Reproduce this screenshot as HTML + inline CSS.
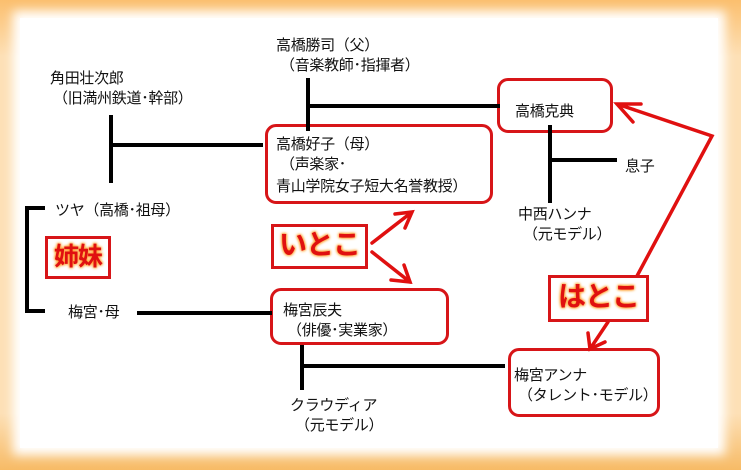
<!DOCTYPE html>
<html><head><meta charset="utf-8"><style>
body{margin:0;width:741px;height:470px;overflow:hidden;background:#f9c57c;font-family:"Liberation Sans","Noto Sans CJK JP",sans-serif;}
#frame{position:absolute;left:0;top:0;width:741px;height:470px;background:linear-gradient(#fbbf6e,#fde0b6 12%,#fde0b6 88%,#f7bb66);}
#inner{position:absolute;left:20px;top:18px;width:698px;height:430px;background:#fff;box-shadow:0 0 10px 7px #fff;}
.t{position:absolute;font-size:15px;color:#111;white-space:nowrap;line-height:20px;letter-spacing:-0.3px;}
.b{position:absolute;border:3px solid #d71518;border-radius:11px;box-sizing:border-box;background:#fff;}
.lab{position:absolute;border:3px solid #d71518;box-sizing:border-box;background:#fff;color:#e01010;font-weight:bold;font-size:28px;line-height:36px;text-align:center;letter-spacing:-1px;text-shadow:0 0 3px #ffa030,0 0 3px #ffa030,0 0 2px #ffc060;}
svg{position:absolute;left:0;top:0;}
</style></head><body>
<div id="frame"></div><div id="inner"></div>
<div class="b" style="left:497px;top:78px;width:116px;height:55px"></div>
<div class="b" style="left:265px;top:124px;width:228px;height:80px"></div>
<div class="b" style="left:270px;top:288px;width:179px;height:57px"></div>
<div class="b" style="left:508px;top:348px;width:152px;height:69px"></div>
<svg width="741" height="470">
<g stroke="#000" stroke-width="4" fill="none">
<path d="M308 78V131M308 106H500"/>
<path d="M111 115V183M111 145H263"/>
<path d="M550 125V203M550 160H617"/>
<path d="M45 208H27V311H45"/>
<path d="M137 313H272"/>
<path d="M302 345V390M302 366H505"/>
</g>
<g stroke="#e01010" stroke-width="3.5" fill="none" stroke-linecap="round">
<path d="M372 243L412 212M395 214L412 212L405 228"/>
<path d="M372 252L410 282M391 280L410 282L404 265"/>
<path d="M637 276L712 136L617 104M633 122L617 104L641 104"/>
<path d="M608 322L590 349M588 333L590 349L605 342"/>
</g>
</svg>
<div class="lab" style="left:45px;top:236px;width:66px;height:43px;font-size:25px;line-height:37px">姉妹</div>
<div class="lab" style="left:271px;top:224px;width:97px;height:45px">いとこ</div>
<div class="lab" style="left:548px;top:275px;width:101px;height:47px;line-height:38px">はとこ</div>
<div class="t" style="left:276px;top:36px">高橋勝司（父）</div>
<div class="t" style="left:280px;top:56px">（音楽教師･指揮者）</div>
<div class="t" style="left:50px;top:69px">角田壮次郎</div>
<div class="t" style="left:53px;top:89px">（旧満州鉄道･幹部）</div>
<div class="t" style="left:515px;top:102px">高橋克典</div>
<div class="t" style="left:276px;top:135px">高橋好子（母）</div>
<div class="t" style="left:280px;top:155px">（声楽家･</div>
<div class="t" style="left:276px;top:177px">青山学院女子短大名誉教授）</div>
<div class="t" style="left:625px;top:157px">息子</div>
<div class="t" style="left:518px;top:205px">中西ハンナ</div>
<div class="t" style="left:523px;top:225px">（元モデル）</div>
<div class="t" style="left:55px;top:201px">ツヤ（高橋･祖母）</div>
<div class="t" style="left:68px;top:303px">梅宮･母</div>
<div class="t" style="left:283px;top:301px">梅宮辰夫</div>
<div class="t" style="left:287px;top:321px">（俳優･実業家）</div>
<div class="t" style="left:290px;top:396px">クラウディア</div>
<div class="t" style="left:295px;top:416px">（元モデル）</div>
<div class="t" style="left:514px;top:366px">梅宮アンナ</div>
<div class="t" style="left:518px;top:386px">（タレント･モデル）</div>
</body></html>
